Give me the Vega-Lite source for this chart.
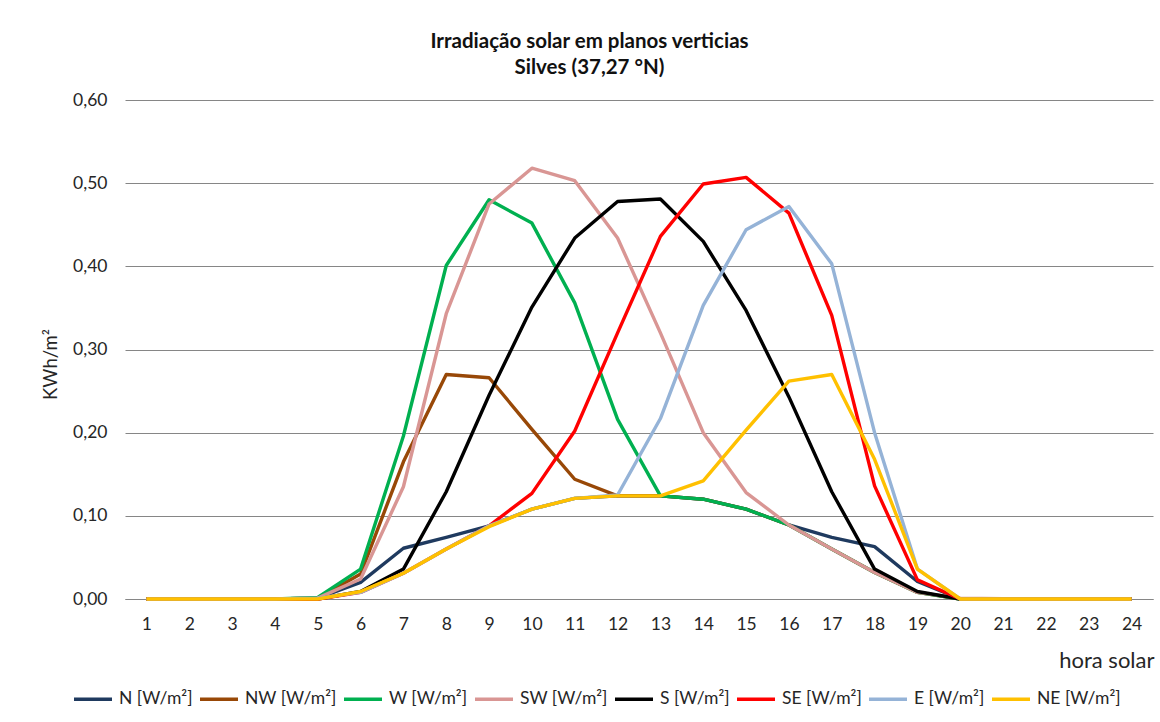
{
  "$schema": "https://vega.github.io/schema/vega-lite/v6.json",
  "autosize": {"type": "none"},
  "width": 1028,
  "height": 499,
  "padding": {"top": 100, "left": 125, "right": 7, "bottom": 123},
  "background": "#ffffff",
  "config": {
    "locale": {"number": {"decimal": ",", "thousands": ".", "grouping": [3], "currency": ["", " €"]}},
    "font": "Lato",
    "view": {"stroke": null},
    "axis": {
      "labelFont": "Lato",
      "labelFontSize": 17.5,
      "labelColor": "#262626",
      "titleFont": "Lato",
      "titleFontWeight": "normal",
      "titleColor": "#262626"
    },
    "legend": {"labelFont": "Lato"}
  },
  "title": {
    "text": ["Irradiação solar em planos verticias", "Silves (37,27 °N)"],
    "font": "Lato",
    "fontSize": 20.5,
    "fontWeight": "bold",
    "color": "#111111",
    "lineHeight": 26,
    "offset": 13,
    "dx": -8,
    "frame": "bounds",
    "anchor": "middle"
  },
  "data": {
    "values": [
      {"hora": 1, "serie": "N", "v": 0}, {"hora": 2, "serie": "N", "v": 0}, {"hora": 3, "serie": "N", "v": 0}, {"hora": 4, "serie": "N", "v": 0},
      {"hora": 5, "serie": "N", "v": 0.001}, {"hora": 6, "serie": "N", "v": 0.02}, {"hora": 7, "serie": "N", "v": 0.061}, {"hora": 8, "serie": "N", "v": 0.074},
      {"hora": 9, "serie": "N", "v": 0.088}, {"hora": 10, "serie": "N", "v": 0.108}, {"hora": 11, "serie": "N", "v": 0.121}, {"hora": 12, "serie": "N", "v": 0.124},
      {"hora": 13, "serie": "N", "v": 0.124}, {"hora": 14, "serie": "N", "v": 0.12}, {"hora": 15, "serie": "N", "v": 0.108}, {"hora": 16, "serie": "N", "v": 0.089},
      {"hora": 17, "serie": "N", "v": 0.074}, {"hora": 18, "serie": "N", "v": 0.063}, {"hora": 19, "serie": "N", "v": 0.021}, {"hora": 20, "serie": "N", "v": 0},
      {"hora": 21, "serie": "N", "v": 0}, {"hora": 22, "serie": "N", "v": 0}, {"hora": 23, "serie": "N", "v": 0}, {"hora": 24, "serie": "N", "v": 0},

      {"hora": 1, "serie": "NW", "v": 0}, {"hora": 2, "serie": "NW", "v": 0}, {"hora": 3, "serie": "NW", "v": 0}, {"hora": 4, "serie": "NW", "v": 0},
      {"hora": 5, "serie": "NW", "v": 0.001}, {"hora": 6, "serie": "NW", "v": 0.03}, {"hora": 7, "serie": "NW", "v": 0.165}, {"hora": 8, "serie": "NW", "v": 0.27},
      {"hora": 9, "serie": "NW", "v": 0.266}, {"hora": 10, "serie": "NW", "v": 0.204}, {"hora": 11, "serie": "NW", "v": 0.144}, {"hora": 12, "serie": "NW", "v": 0.124},
      {"hora": 13, "serie": "NW", "v": 0.124}, {"hora": 14, "serie": "NW", "v": 0.12}, {"hora": 15, "serie": "NW", "v": 0.108}, {"hora": 16, "serie": "NW", "v": 0.089},
      {"hora": 17, "serie": "NW", "v": 0.06}, {"hora": 18, "serie": "NW", "v": 0.032}, {"hora": 19, "serie": "NW", "v": 0.008}, {"hora": 20, "serie": "NW", "v": 0},
      {"hora": 21, "serie": "NW", "v": 0}, {"hora": 22, "serie": "NW", "v": 0}, {"hora": 23, "serie": "NW", "v": 0}, {"hora": 24, "serie": "NW", "v": 0},

      {"hora": 1, "serie": "W", "v": 0}, {"hora": 2, "serie": "W", "v": 0}, {"hora": 3, "serie": "W", "v": 0}, {"hora": 4, "serie": "W", "v": 0},
      {"hora": 5, "serie": "W", "v": 0.002}, {"hora": 6, "serie": "W", "v": 0.036}, {"hora": 7, "serie": "W", "v": 0.196}, {"hora": 8, "serie": "W", "v": 0.401},
      {"hora": 9, "serie": "W", "v": 0.48}, {"hora": 10, "serie": "W", "v": 0.452}, {"hora": 11, "serie": "W", "v": 0.356}, {"hora": 12, "serie": "W", "v": 0.216},
      {"hora": 13, "serie": "W", "v": 0.124}, {"hora": 14, "serie": "W", "v": 0.12}, {"hora": 15, "serie": "W", "v": 0.108}, {"hora": 16, "serie": "W", "v": 0.089},
      {"hora": 17, "serie": "W", "v": 0.06}, {"hora": 18, "serie": "W", "v": 0.032}, {"hora": 19, "serie": "W", "v": 0.008}, {"hora": 20, "serie": "W", "v": 0},
      {"hora": 21, "serie": "W", "v": 0}, {"hora": 22, "serie": "W", "v": 0}, {"hora": 23, "serie": "W", "v": 0}, {"hora": 24, "serie": "W", "v": 0},

      {"hora": 1, "serie": "SW", "v": 0}, {"hora": 2, "serie": "SW", "v": 0}, {"hora": 3, "serie": "SW", "v": 0}, {"hora": 4, "serie": "SW", "v": 0},
      {"hora": 5, "serie": "SW", "v": 0.001}, {"hora": 6, "serie": "SW", "v": 0.024}, {"hora": 7, "serie": "SW", "v": 0.135}, {"hora": 8, "serie": "SW", "v": 0.343},
      {"hora": 9, "serie": "SW", "v": 0.475}, {"hora": 10, "serie": "SW", "v": 0.518}, {"hora": 11, "serie": "SW", "v": 0.503}, {"hora": 12, "serie": "SW", "v": 0.434},
      {"hora": 13, "serie": "SW", "v": 0.32}, {"hora": 14, "serie": "SW", "v": 0.2}, {"hora": 15, "serie": "SW", "v": 0.128}, {"hora": 16, "serie": "SW", "v": 0.089},
      {"hora": 17, "serie": "SW", "v": 0.06}, {"hora": 18, "serie": "SW", "v": 0.032}, {"hora": 19, "serie": "SW", "v": 0.008}, {"hora": 20, "serie": "SW", "v": 0.001},
      {"hora": 21, "serie": "SW", "v": 0.0005}, {"hora": 22, "serie": "SW", "v": 0}, {"hora": 23, "serie": "SW", "v": 0}, {"hora": 24, "serie": "SW", "v": 0},

      {"hora": 1, "serie": "S", "v": 0}, {"hora": 2, "serie": "S", "v": 0}, {"hora": 3, "serie": "S", "v": 0}, {"hora": 4, "serie": "S", "v": 0},
      {"hora": 5, "serie": "S", "v": 0}, {"hora": 6, "serie": "S", "v": 0.009}, {"hora": 7, "serie": "S", "v": 0.036}, {"hora": 8, "serie": "S", "v": 0.129},
      {"hora": 9, "serie": "S", "v": 0.245}, {"hora": 10, "serie": "S", "v": 0.351}, {"hora": 11, "serie": "S", "v": 0.434}, {"hora": 12, "serie": "S", "v": 0.478},
      {"hora": 13, "serie": "S", "v": 0.481}, {"hora": 14, "serie": "S", "v": 0.43}, {"hora": 15, "serie": "S", "v": 0.347}, {"hora": 16, "serie": "S", "v": 0.243},
      {"hora": 17, "serie": "S", "v": 0.129}, {"hora": 18, "serie": "S", "v": 0.036}, {"hora": 19, "serie": "S", "v": 0.009}, {"hora": 20, "serie": "S", "v": 0},
      {"hora": 21, "serie": "S", "v": 0}, {"hora": 22, "serie": "S", "v": 0}, {"hora": 23, "serie": "S", "v": 0}, {"hora": 24, "serie": "S", "v": 0},

      {"hora": 1, "serie": "SE", "v": 0}, {"hora": 2, "serie": "SE", "v": 0}, {"hora": 3, "serie": "SE", "v": 0}, {"hora": 4, "serie": "SE", "v": 0},
      {"hora": 5, "serie": "SE", "v": 0}, {"hora": 6, "serie": "SE", "v": 0.008}, {"hora": 7, "serie": "SE", "v": 0.031}, {"hora": 8, "serie": "SE", "v": 0.06},
      {"hora": 9, "serie": "SE", "v": 0.088}, {"hora": 10, "serie": "SE", "v": 0.127}, {"hora": 11, "serie": "SE", "v": 0.202}, {"hora": 12, "serie": "SE", "v": 0.32},
      {"hora": 13, "serie": "SE", "v": 0.436}, {"hora": 14, "serie": "SE", "v": 0.499}, {"hora": 15, "serie": "SE", "v": 0.507}, {"hora": 16, "serie": "SE", "v": 0.464},
      {"hora": 17, "serie": "SE", "v": 0.341}, {"hora": 18, "serie": "SE", "v": 0.136}, {"hora": 19, "serie": "SE", "v": 0.023}, {"hora": 20, "serie": "SE", "v": 0},
      {"hora": 21, "serie": "SE", "v": 0}, {"hora": 22, "serie": "SE", "v": 0}, {"hora": 23, "serie": "SE", "v": 0}, {"hora": 24, "serie": "SE", "v": 0},

      {"hora": 1, "serie": "E", "v": 0}, {"hora": 2, "serie": "E", "v": 0}, {"hora": 3, "serie": "E", "v": 0}, {"hora": 4, "serie": "E", "v": 0},
      {"hora": 5, "serie": "E", "v": 0.001}, {"hora": 6, "serie": "E", "v": 0.008}, {"hora": 7, "serie": "E", "v": 0.031}, {"hora": 8, "serie": "E", "v": 0.06},
      {"hora": 9, "serie": "E", "v": 0.088}, {"hora": 10, "serie": "E", "v": 0.108}, {"hora": 11, "serie": "E", "v": 0.121}, {"hora": 12, "serie": "E", "v": 0.125},
      {"hora": 13, "serie": "E", "v": 0.217}, {"hora": 14, "serie": "E", "v": 0.353}, {"hora": 15, "serie": "E", "v": 0.444}, {"hora": 16, "serie": "E", "v": 0.472},
      {"hora": 17, "serie": "E", "v": 0.403}, {"hora": 18, "serie": "E", "v": 0.2}, {"hora": 19, "serie": "E", "v": 0.036}, {"hora": 20, "serie": "E", "v": 0},
      {"hora": 21, "serie": "E", "v": 0}, {"hora": 22, "serie": "E", "v": 0}, {"hora": 23, "serie": "E", "v": 0}, {"hora": 24, "serie": "E", "v": 0},

      {"hora": 1, "serie": "NE", "v": 0}, {"hora": 2, "serie": "NE", "v": 0}, {"hora": 3, "serie": "NE", "v": 0}, {"hora": 4, "serie": "NE", "v": 0},
      {"hora": 5, "serie": "NE", "v": 0}, {"hora": 6, "serie": "NE", "v": 0.009}, {"hora": 7, "serie": "NE", "v": 0.031}, {"hora": 8, "serie": "NE", "v": 0.06},
      {"hora": 9, "serie": "NE", "v": 0.087}, {"hora": 10, "serie": "NE", "v": 0.108}, {"hora": 11, "serie": "NE", "v": 0.121}, {"hora": 12, "serie": "NE", "v": 0.124},
      {"hora": 13, "serie": "NE", "v": 0.124}, {"hora": 14, "serie": "NE", "v": 0.142}, {"hora": 15, "serie": "NE", "v": 0.203}, {"hora": 16, "serie": "NE", "v": 0.262},
      {"hora": 17, "serie": "NE", "v": 0.27}, {"hora": 18, "serie": "NE", "v": 0.168}, {"hora": 19, "serie": "NE", "v": 0.036}, {"hora": 20, "serie": "NE", "v": 0},
      {"hora": 21, "serie": "NE", "v": 0}, {"hora": 22, "serie": "NE", "v": 0}, {"hora": 23, "serie": "NE", "v": 0}, {"hora": 24, "serie": "NE", "v": 0}
    ]
  },
  "mark": {"type": "line", "strokeWidth": 3.4, "strokeJoin": "round", "strokeCap": "butt"},
  "encoding": {
    "x": {
      "field": "hora",
      "type": "quantitative",
      "scale": {"domain": [0.5, 24.5], "nice": false, "zero": false},
      "axis": {
        "title": "hora solar",
        "values": [1, 2, 3, 4, 5, 6, 7, 8, 9, 10, 11, 12, 13, 14, 15, 16, 17, 18, 19, 20, 21, 22, 23, 24],
        "format": "d",
        "grid": false,
        "ticks": false,
        "domain": true,
        "domainColor": "#868686",
        "domainWidth": 1,
        "labelPadding": 16,
        "labelFlush": false,
        "titleFontSize": 22,
        "titleAnchor": "end",
        "titleAlign": "right",
        "titleBaseline": "middle",
        "titleX": 1029,
        "titleY": 61
      }
    },
    "y": {
      "field": "v",
      "type": "quantitative",
      "scale": {"domain": [0, 0.6], "nice": false},
      "axis": {
        "title": "KWh/m²",
        "values": [0, 0.1, 0.2, 0.3, 0.4, 0.5, 0.6],
        "format": ".2f",
        "grid": true,
        "gridColor": "#868686",
        "gridWidth": 1,
        "ticks": false,
        "domain": false,
        "labelPadding": 18,
        "titleFontSize": 18.5,
        "titleAngle": -90,
        "titleAlign": "center",
        "titleBaseline": "middle",
        "titleX": -75,
        "titleY": 264
      }
    },
    "color": {
      "field": "serie",
      "type": "nominal",
      "scale": {
        "domain": ["N", "NW", "W", "SW", "S", "SE", "E", "NE"],
        "range": ["#1F3A5F", "#984807", "#00B050", "#D99694", "#000000", "#FF0000", "#95B3D7", "#FFC000"]
      },
      "legend": {
        "title": null,
        "orient": "none",
        "direction": "horizontal",
        "columns": 8,
        "legendX": -53,
        "legendY": 578,
        "symbolType": "stroke",
        "symbolSize": 1444,
        "symbolStrokeWidth": 3.5,
        "labelFontSize": 17.5,
        "labelColor": "#262626",
        "labelOffset": 5,
        "columnPadding": 0,
        "labelExpr": "datum.label + ' [W/m²]'"
      }
    }
  }
}
